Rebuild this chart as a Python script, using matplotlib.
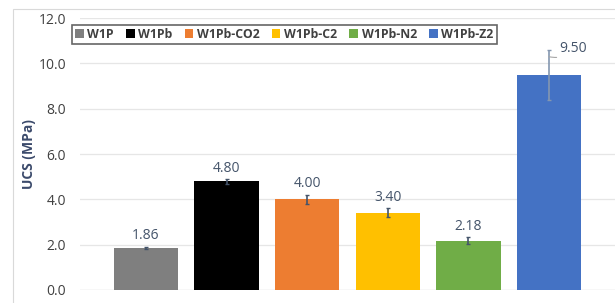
import matplotlib.pyplot as plt
from matplotlib.patches import Rectangle

samples = ["W1P", "W1Pb", "W1Pb-CO2", "W1Pb-C2", "W1Pb-N2", "W1Pb-Z2"]
ucs = [1.86, 4.80, 4.00, 3.40, 2.18, 9.50]
err = [0.05, 0.10, 0.20, 0.20, 0.15, 1.10]
colors = ["#7f7f7f", "#000000", "#ed7d31", "#ffc000", "#70ad47", "#4472c4"]
err_colors = ["#44546a", "#44546a", "#44546a", "#44546a", "#44546a", "#8497b0"]
yticks = [0, 2, 4, 6, 8, 10, 12]

plt.rcParams["font.family"] = ["Open Sans", "DejaVu Sans"]

fig = plt.figure(figsize=(6.15, 3.03), dpi=100)
ax = fig.add_axes([0.13, 0.043, 0.87, 0.897])

x = list(range(len(samples)))
for i in x:
    ax.bar(i, ucs[i], width=0.8, color=colors[i], label=samples[i], zorder=2)
    ax.errorbar(i, ucs[i], yerr=err[i], fmt="none", ecolor=err_colors[i],
                elinewidth=1.2, capsize=1.5, capthick=1, zorder=3)

for i in x[:-1]:
    ax.text(i, ucs[i] + err[i] + 0.15, f"{ucs[i]:.2f}", ha="center", va="bottom",
            fontsize=10, color="#44546a")

# label for the last bar sits beside its tall error bar with a leader line
last = x[-1]
top = ucs[last] + err[last]
ax.annotate(f"{ucs[last]:.2f}", xy=(last, top - 0.3), xytext=(last + 0.13, top + 0.05),
            fontsize=10, color="#44546a", va="center", ha="left",
            arrowprops=dict(arrowstyle="-", color="#a6a6a6", lw=0.8,
                            connectionstyle="arc3,rad=-0.3", shrinkA=0, shrinkB=0))

ax.set_ylim(0, 12)
ax.set_xlim(-0.82, 5.82)
ax.set_yticks(yticks)
ax.set_yticklabels([f"{v:.1f}" for v in yticks], fontsize=10, color="#404040")
ax.set_xticks([])
ax.tick_params(axis="y", length=0, pad=10)
ax.grid(axis="y", color="#e6e6e6", lw=0.9, zorder=0)
for s in ax.spines.values():
    s.set_visible(False)
ax.axhline(0, color="#d9d9d9", lw=0.9, zorder=1)

ax.set_ylabel("UCS (MPa)", fontsize=10, fontweight="bold", color="#3b4a6b", labelpad=2)

leg = ax.legend(loc="upper center", bbox_to_anchor=(0.382, 0.976), ncol=6, fontsize=8.8,
                frameon=True, fancybox=False, handlelength=0.7, handleheight=0.7,
                handletextpad=0.3, columnspacing=1.0, borderpad=0.25, borderaxespad=0)
leg.get_frame().set_edgecolor("#404040")
leg.get_frame().set_linewidth(1.2)
for t in leg.get_texts():
    t.set_color("#404040")
    t.set_fontweight("bold")

fig.patches.append(Rectangle((13 / 615, -0.05), 1.0, 1.02, transform=fig.transFigure,
                             fill=False, edgecolor="#d9d9d9", lw=0.8))

fig.savefig("out.png", dpi=100)
